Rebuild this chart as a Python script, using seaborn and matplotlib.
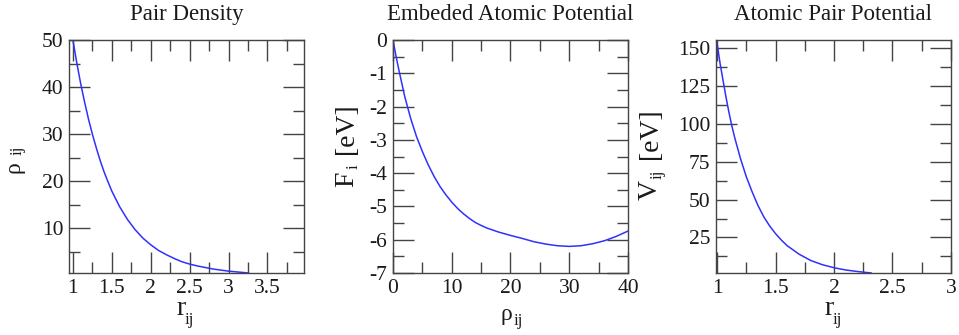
import numpy as np
import pandas as pd
import matplotlib
matplotlib.use("Agg")
import matplotlib.pyplot as plt
import seaborn as sns
from matplotlib.ticker import MultipleLocator

# pair density rho(r)
r_dens = [1.0, 1.025, 1.05, 1.075, 1.1, 1.15, 1.2, 1.25, 1.3, 1.35, 1.4, 1.45, 1.5,
          1.6, 1.7, 1.8, 1.9, 2.0, 2.1, 2.2, 2.3, 2.4, 2.5, 2.6, 2.8, 3.0, 3.26]
rho_dens = [50, 47.5, 45.1, 42.9, 40.7, 36.8, 33.2, 30.0, 27.1, 24.4, 22.0, 19.9, 17.9,
            14.6, 11.9, 9.7, 7.9, 6.5, 5.3, 4.4, 3.6, 2.9, 2.4, 2.0, 1.35, 0.9, 0.5]

# embedding function F(rho)
rho_emb = [0, 0.5, 1, 2, 3, 4, 5, 6, 7, 8, 9, 10, 11, 12, 13, 14, 15, 16, 18, 20,
           22, 24, 26, 28, 30, 32, 34, 36, 38, 40]
f_emb = [0, -0.47, -0.9, -1.7, -2.35, -2.9, -3.35, -3.75, -4.1, -4.4, -4.65, -4.87,
         -5.06, -5.22, -5.36, -5.48, -5.57, -5.65, -5.77, -5.87, -5.96, -6.06, -6.13,
         -6.18, -6.2, -6.18, -6.12, -6.03, -5.9, -5.74]

# pair potential V(r)
r_pot = [1.0, 1.025, 1.05, 1.075, 1.1, 1.125, 1.15, 1.175, 1.2, 1.25, 1.3, 1.35, 1.4,
         1.45, 1.5, 1.55, 1.6, 1.7, 1.8, 1.9, 2.0, 2.1, 2.2, 2.32]
v_pot = [153, 140, 129, 118, 108, 99, 91, 84, 77, 65, 55, 46, 38.5,
         32.5, 27.5, 23.2, 19.5, 14, 9.8, 7, 5, 3.5, 2.5, 1.5]

sns.set_theme(style="ticks")
plt.rcParams['font.family'] = ['Liberation Serif', 'DejaVu Serif']

W, H = 959, 335
fig = plt.figure(figsize=(W / 100, H / 100), dpi=100)
cor = "#1a1a1a"

def txt(x, y, s, fs, rot=0):
    # x, y em pixels (origem no canto superior esquerdo), ancorado na baseline
    fig.text(x / W, 1 - y / H, s, fontsize=fs, rotation=rot, rotation_mode="anchor",
             ha="left", va="baseline", color=cor)

paineis = [
    (0.0720, r_dens, rho_dens, "Pair Density",
     (0.95, 3.97), (0.5, 50), [1, 1.5, 2, 2.5, 3, 3.5], 0.25, [10, 20, 30, 40, 50], 5,
     ["1", "1.5", "2", "2.5", "3", "3.5"], ["10", "20", "30", "40", "50"]),
    (0.4098, rho_emb, f_emb, "Embeded Atomic Potential",
     (0, 40), (-7, 0), [0, 10, 20, 30, 40], 5, list(range(-7, 1)), 0.5,
     ["0", "10", "20", "30", "40"], [str(v) for v in range(-7, 1)]),
    (0.7466, r_pot, v_pot, "Atomic Pair Potential",
     (0.99, 3.0), (1.5, 155.5), [1, 1.5, 2, 2.5, 3], 0.25, [25, 50, 75, 100, 125, 150], 12.5,
     ["1", "1.5", "2", "2.5", "3"], ["25", "50", "75", "100", "125", "150"]),
]

for (esq, xs, ys, titulo, xl, yl, xt, xmin, yt, ymin, xtl, ytl) in paineis:
    ax = fig.add_axes([esq, 0.185, 0.245, 0.6955])
    df = pd.DataFrame({"x": xs, "y": ys})
    sns.lineplot(data=df, x="x", y="y", ax=ax, color="#3030ff", linewidth=1.1,
                 sort=False, estimator=None)
    ax.set_xlim(xl)
    ax.set_ylim(yl)
    ax.set_xticks(xt)
    ax.set_xticklabels(xtl)
    ax.set_yticks(yt)
    ax.set_yticklabels(ytl)
    ax.xaxis.set_minor_locator(MultipleLocator(xmin))
    ax.yaxis.set_minor_locator(MultipleLocator(ymin))
    ax.tick_params(which="both", direction="in", top=True, right=True,
                   color="#444444", width=1.0, labelsize=15.5, labelcolor=cor)
    ax.tick_params(which="major", length=15, pad=4)
    ax.tick_params(which="minor", length=8)
    for s in ax.spines.values():
        s.set_color("#444444")
        s.set_linewidth(1.0)
    ax.set_title(titulo, fontsize=16.5, pad=14.4, color=cor)
    ax.set_xlabel("")
    ax.set_ylabel("")

# rotulos dos eixos com subscritos pequenos e baixos (estilo xmgrace)
# painel 1
txt(176, 315, "r", 20)
txt(185, 324, "ij", 12)
txt(19, 173, "\u03c1", 17, rot=90)
txt(22, 155, "ij", 12, rot=90)
# painel 2
txt(501, 320, "\u03c1", 17)
txt(514, 325, "ij", 12)
txt(353, 187, "F", 20, rot=90)
txt(358, 169, "i", 12, rot=90)
txt(353, 154, "[eV]", 20, rot=90)
# painel 3
txt(824, 315, "r", 20)
txt(833, 324, "ij", 12)
txt(657, 200, "V", 20, rot=90)
txt(662, 179, "ij", 12, rot=90)
txt(657, 159, "[eV]", 20, rot=90)

fig.savefig("out.png", dpi=100)
